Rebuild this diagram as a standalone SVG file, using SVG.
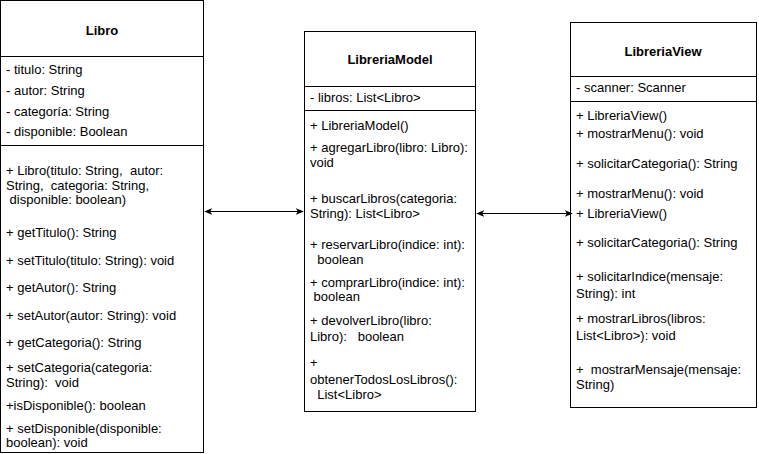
<svg xmlns="http://www.w3.org/2000/svg" width="759" height="454" viewBox="0 0 759 454">
<style>
.box{fill:#fff;stroke:#000;stroke-width:1}
.sep{stroke:#000;stroke-width:1}
text{font-family:"Liberation Sans",Arial,Helvetica,sans-serif;font-size:13px;fill:#000}
.title{font-weight:bold;text-anchor:middle}
.conn{stroke:#000;stroke-width:1;fill:none}
</style>
<defs>
<marker id="ah" viewBox="0 0 10 10" refX="9" refY="5" markerWidth="8" markerHeight="8" orient="auto-start-reverse" markerUnits="userSpaceOnUse">
<path d="M0,0.8 L10,5 L0,9.2 L2.5,5 Z" fill="#000"/>
</marker>
</defs>
<rect width="759" height="454" fill="#fff"/>
<g id="libro">
<rect class="box" x="0.5" y="0.5" width="203" height="452"/>
<line class="sep" x1="0.5" y1="56.5" x2="203.5" y2="56.5"/>
<line class="sep" x1="0.5" y1="145.5" x2="203.5" y2="145.5"/>
<text class="title" x="102" y="35">Libro</text>
<text x="6" y="74">- titulo: String</text>
<text x="6" y="95">- autor: String</text>
<text x="6" y="116">- categoría: String</text>
<text x="6" y="136">- disponible: Boolean</text>
<text x="6" y="175" xml:space="preserve">+ Libro(titulo: String,  autor:</text>
<text x="6" y="190" xml:space="preserve">String,  categoria: String,</text>
<text x="6" y="204" xml:space="preserve"> disponible: boolean)</text>
<text x="6" y="237">+ getTitulo(): String</text>
<text x="6" y="265">+ setTitulo(titulo: String): void</text>
<text x="6" y="292">+ getAutor(): String</text>
<text x="6" y="320">+ setAutor(autor: String): void</text>
<text x="6" y="347">+ getCategoria(): String</text>
<text x="6" y="372">+ setCategoria(categoria:</text>
<text x="6" y="387" xml:space="preserve">String):  void</text>
<text x="6" y="410">+isDisponible(): boolean</text>
<text x="6" y="433">+ setDisponible(disponible:</text>
<text x="6" y="447">boolean): void</text>
</g>
<g id="libreriaModel">
<rect class="box" x="304.5" y="31.5" width="171" height="380"/>
<line class="sep" x1="304.5" y1="86.5" x2="475.5" y2="86.5"/>
<line class="sep" x1="304.5" y1="110.5" x2="475.5" y2="110.5"/>
<text class="title" x="390" y="64">LibreriaModel</text>
<text x="310" y="102">- libros: List&lt;Libro&gt;</text>
<text x="310" y="130">+ LibreriaModel()</text>
<text x="310" y="152">+ agregarLibro(libro: Libro):</text>
<text x="310" y="167">void</text>
<text x="310" y="203">+ buscarLibros(categoria:</text>
<text x="310" y="218">String): List&lt;Libro&gt;</text>
<text x="310" y="249">+ reservarLibro(indice: int):</text>
<text x="310" y="264" xml:space="preserve">  boolean</text>
<text x="310" y="287">+ comprarLibro(indice: int):</text>
<text x="310" y="301" xml:space="preserve"> boolean</text>
<text x="310" y="325">+ devolverLibro(libro:</text>
<text x="310" y="341" xml:space="preserve">Libro):   boolean</text>
<text x="310" y="367">+</text>
<text x="310" y="384">obtenerTodosLosLibros():</text>
<text x="310" y="399" xml:space="preserve">  List&lt;Libro&gt;</text>
</g>
<g id="libreriaView">
<rect class="box" x="570.5" y="22.5" width="186" height="385"/>
<line class="sep" x1="570.5" y1="76.5" x2="756.5" y2="76.5"/>
<line class="sep" x1="570.5" y1="101.5" x2="756.5" y2="101.5"/>
<text class="title" x="663" y="56">LibreriaView</text>
<text x="576" y="92">- scanner: Scanner</text>
<text x="576" y="120">+ LibreriaView()</text>
<text x="576" y="138">+ mostrarMenu(): void</text>
<text x="576" y="168">+ solicitarCategoria(): String</text>
<text x="576" y="198">+ mostrarMenu(): void</text>
<text x="576" y="218">+ LibreriaView()</text>
<text x="576" y="247">+ solicitarCategoria(): String</text>
<text x="576" y="281">+ solicitarIndice(mensaje:</text>
<text x="576" y="298">String): int</text>
<text x="576" y="323">+ mostrarLibros(libros:</text>
<text x="576" y="340">List&lt;Libro&gt;): void</text>
<text x="576" y="374" xml:space="preserve">+  mostrarMensaje(mensaje:</text>
<text x="576" y="389">String)</text>
</g>
<g id="connectors">
<line class="conn" x1="205" y1="211.5" x2="303" y2="211.5" marker-start="url(#ah)" marker-end="url(#ah)"/>
<line class="conn" x1="477" y1="213.5" x2="572" y2="213.5" marker-start="url(#ah)" marker-end="url(#ah)"/>
</g>
</svg>
